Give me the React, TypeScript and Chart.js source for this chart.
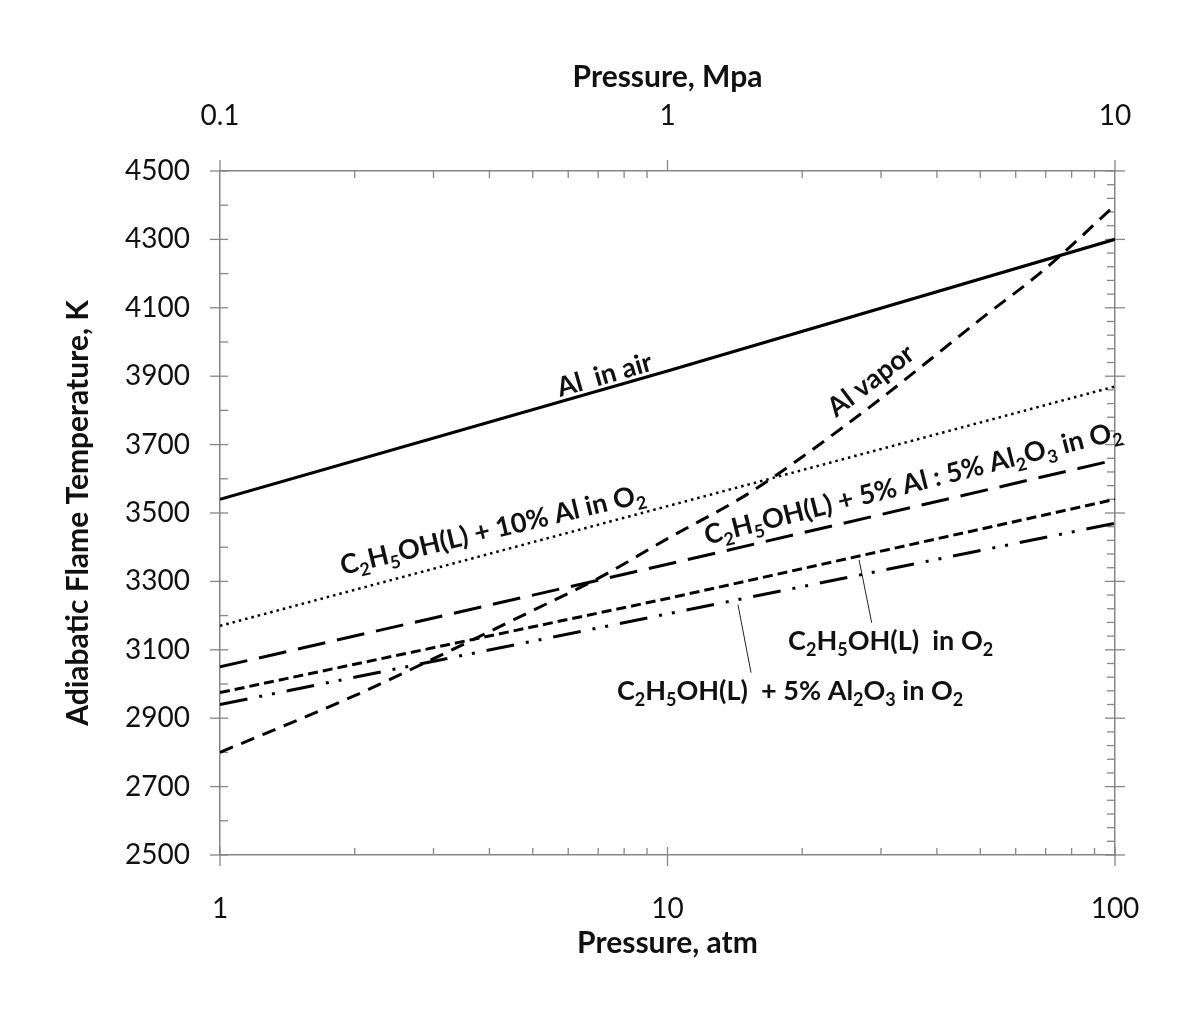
import React, { useEffect, useRef } from "react";
import { Chart, registerables } from "chart.js";

Chart.register(...registerables);

// ---- Data (pressure in atm, temperature in K) ----
const linePressures = [1, 10, 100];
const alInAir = [3540, 3915, 4300];
const ethanol10Al = [3170, 3520, 3870];
const ethanol5Al5Al2O3 = [3050, 3350, 3655];
const ethanolO2 = [2975, 3250, 3540];
const ethanol5Al2O3 = [2940, 3205, 3470];

const vaporPressures = [1, 2, 3, 5, 7, 10, 15, 20, 30, 50, 70, 100];
const alVapor = [2800, 2966, 3074, 3215, 3309, 3425, 3553, 3664, 3835, 4066, 4215, 4400];

const bottomTicks = [1, 10, 100];
const topTicks = [0.1, 1, 10];
const yMin = 2500;
const yMax = 4500;
const yStep = 200;

// annotation texts: [text, isSubscript]
type Part = [string, boolean];
const labelTexts: Part[][] = [
  [["Al  in air", false]],
  [["Al vapor", false]],
  [["C", false], ["2", true], ["H", false], ["5", true], ["OH(L) + 10% Al in O", false], ["2", true]],
  [["C", false], ["2", true], ["H", false], ["5", true], ["OH(L) + 5% Al : 5% Al", false], ["2", true], ["O", false], ["3", true], [" in O", false], ["2", true]],
  [["C", false], ["2", true], ["H", false], ["5", true], ["OH(L)  in O", false], ["2", true]],
  [["C", false], ["2", true], ["H", false], ["5", true], ["OH(L)  + 5% Al", false], ["2", true], ["O", false], ["3", true], [" in O", false], ["2", true]],
];
const labelP = [5.75, 23.8, 1.88, 12.25, 18.6, 7.71];
const labelT = [3839, 3778, 3319, 3407, 3100, 2954];
const labelAngle = [-16, -37, -13.5, -14.3, 0, 0];

const leaderP1 = [26.8, 14.37];
const leaderT1 = [3363, 3232];
const leaderP2 = [28.6, 15.37];
const leaderT2 = [3179, 3033];

const FONT = "Lato";
const AXIS = "#868686";

const toPts = (xs: number[], ys: number[]) => xs.map((x, i) => ({ x, y: ys[i] }));

const tickPlugin = {
  id: "tickMarks",
  beforeDatasetsDraw(chart: any) {
    const { ctx, chartArea: a, scales } = chart;
    const xs = scales.x;
    const ys = scales.y;
    ctx.save();
    ctx.strokeStyle = AXIS;
    ctx.lineWidth = 1.3;
    const line = (x1: number, y1: number, x2: number, y2: number) => {
      ctx.beginPath();
      ctx.moveTo(x1, y1);
      ctx.lineTo(x2, y2);
      ctx.stroke();
    };
    for (let d = 1; d < 100; d *= 10) {
      for (let m = 1; m <= 9; m++) {
        const v = d * m;
        const px = xs.getPixelForValue(v);
        if (m === 1) {
          line(px, a.bottom - 8, px, a.bottom + 11);
          line(px, a.top, px, a.top - 11);
        } else {
          line(px, a.bottom, px, a.bottom - 7);
          line(px, a.top, px, a.top + 7);
        }
      }
    }
    const px100 = xs.getPixelForValue(100);
    line(px100, a.bottom - 8, px100, a.bottom + 11);
    line(px100, a.top, px100, a.top - 11);
    for (let v = yMin; v <= yMax; v += 100) {
      const py = ys.getPixelForValue(v);
      if ((v - yMin) % 200 === 0) line(a.left - 10, py, a.left + 8, py);
      else line(a.left, py, a.left + 8, py);
    }
    for (let v = yMin; v <= yMax; v += 40) {
      const py = ys.getPixelForValue(v);
      if ((v - yMin) % 200 === 0) line(a.right - 10, py, a.right + 10, py);
      else line(a.right - 8, py, a.right, py);
    }
    ctx.restore();
  },
};

const labelPlugin = {
  id: "seriesLabels",
  afterDatasetsDraw(chart: any) {
    const { ctx, scales } = chart;
    const xs = scales.x;
    const ys = scales.y;
    const size = 27;
    const sub = 18;
    ctx.save();
    ctx.fillStyle = "#111";
    ctx.textBaseline = "alphabetic";
    ctx.textAlign = "left";
    labelTexts.forEach((parts, i) => {
      const x = xs.getPixelForValue(labelP[i]);
      const y = ys.getPixelForValue(labelT[i]);
      ctx.save();
      ctx.translate(x, y);
      ctx.rotate((labelAngle[i] * Math.PI) / 180);
      let cx = 0;
      parts.forEach(([t, isSub]) => {
        ctx.font = `bold ${isSub ? sub : size}px ${FONT}`;
        ctx.fillText(t, cx, isSub ? 6 : 0);
        cx += ctx.measureText(t).width;
      });
      ctx.restore();
    });
    ctx.strokeStyle = "#222";
    ctx.lineWidth = 1;
    leaderP1.forEach((p, i) => {
      ctx.beginPath();
      ctx.moveTo(xs.getPixelForValue(p), ys.getPixelForValue(leaderT1[i]));
      ctx.lineTo(xs.getPixelForValue(leaderP2[i]), ys.getPixelForValue(leaderT2[i]));
      ctx.stroke();
    });
    ctx.restore();
  },
};

export default function App() {
  const ref = useRef<HTMLCanvasElement>(null);
  useEffect(() => {
    if (!ref.current) return;
    const tickFont = { family: FONT, size: 28 };
    const titleFont = { family: FONT, size: 30, weight: "bold" as const };
    const base = {
      pointRadius: 0,
      borderColor: "#000",
      backgroundColor: "#000",
      fill: false,
      tension: 0,
    };
    const chart = new Chart(ref.current, {
      type: "line",
      data: {
        datasets: [
          { ...base, label: "Al in air", data: toPts(linePressures, alInAir), borderWidth: 3.2 },
          { ...base, label: "Al vapor", data: toPts(vaporPressures, alVapor), borderWidth: 3, borderDash: [14, 9], cubicInterpolationMode: "monotone" },
          { ...base, label: "C2H5OH(L) + 10% Al in O2", data: toPts(linePressures, ethanol10Al), borderWidth: 2.5, borderDash: [2.5, 4] },
          { ...base, label: "C2H5OH(L) + 5% Al : 5% Al2O3 in O2", data: toPts(linePressures, ethanol5Al5Al2O3), borderWidth: 3, borderDash: [28, 12] },
          { ...base, label: "C2H5OH(L) in O2", data: toPts(linePressures, ethanolO2), borderWidth: 3, borderDash: [10, 5] },
          { ...base, label: "C2H5OH(L) + 5% Al2O3 in O2", data: toPts(linePressures, ethanol5Al2O3), borderWidth: 3, borderDash: [28, 12, 3, 10, 3, 12] },
        ] as any,
      },
      options: {
        animation: false,
        responsive: false,
        devicePixelRatio: 1,
        layout: { padding: 0 },
        plugins: { legend: { display: false }, tooltip: { enabled: false } },
        scales: {
          x: {
            type: "logarithmic",
            position: "bottom",
            min: 1,
            max: 100,
            afterBuildTicks: (s: any) => {
              s.ticks = bottomTicks.map((v) => ({ value: v }));
            },
            ticks: { callback: (v: any) => String(v), font: tickFont, color: "#111", padding: 37, autoSkip: false, maxRotation: 0 },
            grid: { display: false, drawTicks: false },
            border: { color: AXIS, width: 1.5 },
            title: { display: true, text: "Pressure, atm", font: titleFont, color: "#111", padding: { top: 0, bottom: 74 } },
            afterFit: (s: any) => {
              s.height = 180;
            },
          },
          x2: {
            type: "logarithmic",
            position: "top",
            min: 0.1,
            max: 10,
            afterBuildTicks: (s: any) => {
              s.ticks = topTicks.map((v) => ({ value: v }));
            },
            ticks: { callback: (v: any) => String(v), font: tickFont, color: "#111", padding: 38, autoSkip: false, maxRotation: 0 },
            grid: { display: false, drawTicks: false },
            border: { color: AXIS, width: 1.5 },
            title: { display: true, text: "Pressure, Mpa", font: titleFont, color: "#111", padding: { top: 59, bottom: 0 } },
            afterFit: (s: any) => {
              s.height = 171;
            },
          },
          y: {
            type: "linear",
            position: "left",
            min: yMin,
            max: yMax,
            ticks: { stepSize: yStep, font: tickFont, color: "#111", padding: 30, callback: (v: any) => String(v) },
            grid: { display: false, drawTicks: false },
            border: { color: AXIS, width: 1.5 },
            title: { display: true, text: "Adiabatic Flame Temperature, K", font: titleFont, color: "#111", padding: { top: 60, bottom: 0 } },
            afterFit: (s: any) => {
              s.width = 220;
            },
          },
          y2: {
            type: "linear",
            position: "right",
            min: yMin,
            max: yMax,
            ticks: { display: false },
            grid: { display: false, drawTicks: false },
            border: { color: AXIS, width: 1.5 },
            afterFit: (s: any) => {
              s.width = 85;
            },
          },
        },
      } as any,
      plugins: [tickPlugin, labelPlugin],
    });
    return () => chart.destroy();
  }, []);
  return (
    <div style={{ position: "absolute", left: 0, top: 0, width: 1200, height: 1035, background: "#fff" }}>
      <canvas ref={ref} width={1200} height={1035} style={{ display: "block" }} />
    </div>
  );
}
